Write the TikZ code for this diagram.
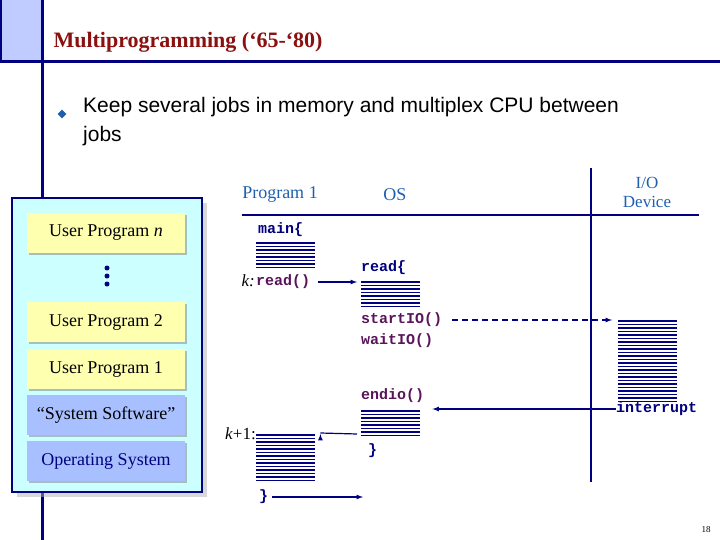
\documentclass[tikz,border=0pt]{standalone}
\usepackage{fontspec}
\setmainfont{Liberation Serif}
\newfontfamily\sansf{Liberation Sans}
\newfontfamily\monof{Liberation Mono}
\usetikzlibrary{positioning,shapes.geometric}
\definecolor{navy}{HTML}{000080}
\definecolor{titlered}{HTML}{8B1010}
\definecolor{codepurple}{HTML}{5A145A}
\definecolor{memcyan}{HTML}{CCFFFF}
\definecolor{progyellow}{HTML}{FFFFB0}
\definecolor{sysblue}{HTML}{A8C0FF}
\definecolor{textblue}{HTML}{1F5FB0}
\tikzset{
  prog/.style={draw=none,fill=progyellow,minimum width=158pt,minimum height=40pt,
    font=\fontsize{18}{20}\selectfont,drop shadow},
  sys/.style={prog,fill=sysblue},
  code/.style={font=\monof\bfseries\fontsize{15}{16}\selectfont,inner sep=0pt,anchor=west},
  stripes/.style={minimum width=59pt,minimum height=#1*3.5pt,inner sep=0pt,anchor=north west,
    path picture={\foreach \k in {1,...,#1}
      \draw[navy,line width=1.5pt] ([yshift=-\k*3.5pt+1.75pt]path picture bounding box.north west) -- ++(59pt,0);}},
  head/.style={text=textblue,font=\fontsize{18}{19}\selectfont},
  arr/.style={->,>=latex,navy,line width=1.2pt}
}
\usetikzlibrary{shadows}
\begin{document}
\begin{tikzpicture}[x=1pt,y=-1pt]
	\useasboundingbox (0,0) rectangle (720,540);
	% frame of the slide
	\fill[fill={rgb,255:red,192;green,204;blue,255}] (0,0) rectangle (42,62);
	\draw[navy,line width=2.5pt] (1,0) -- (1,62);
	\draw[navy,line width=3pt] (42,0) -- (42,540);
	\draw[navy,line width=3pt] (0,62) -- (720,62);
	\node[anchor=west,text=titlered,font=\bfseries\fontsize{22}{24}\selectfont] (title) at (50,42) {Multiprogramming (‘65-‘80)};
	\node[diamond,fill=textblue,inner sep=0pt,minimum size=9pt] (bullet) at (62,114) {};
	\node[anchor=north west,align=left,font=\sansf\fontsize{21}{29}\selectfont,inner sep=0pt] (keep) at (83,97)
	  {Keep several jobs in memory and multiplex CPU between\\jobs};

	% memory
	\node[draw=navy,line width=1.2pt,fill=memcyan,minimum width=190pt,minimum height=294pt,
	  drop shadow={shadow xshift=5pt,shadow yshift=-5pt,fill=gray!60}] (mem) at (107,345) {};
	\node[prog] (upn) at (106,233) {User Program \textit{n}};
	\foreach \y in {268,276,284} \fill[navy] (107,\y) circle (2.5pt);
	\node[prog] (up2) at (106,322) {User Program 2};
	\node[prog] (up1) at (106,369) {User Program 1};
	\node[sys] (ss) at (106,415) {“System Software”};
	\node[sys,text=navy] (os) at (106,461) {Operating System};

	% columns
	\node[head] (hprog) at (280,195) {Program 1};
	\node[head] (hos) at (395,195) {OS};
	\node[head,align=center,font=\fontsize{17}{19}\selectfont] (hio) at (647,192) {I/O\\Device};
	\draw[navy,line width=2.5pt] (242,215) -- (699,215);
	\draw[navy,line width=2.5pt] (591,168) -- (591,482);

	% program 1
	\node[code,text=navy] (main) at (258,230) {main\{};
	\node[stripes=8] (pa) at (256,241) {};
	\node[anchor=east,font=\itshape\fontsize{17}{18}\selectfont,inner sep=1pt] (k) at (256,281) {k:};
	\node[code,text=codepurple] (read) at (256,282) {read()};
	\node[anchor=east,font=\fontsize{17}{18}\selectfont,inner sep=1pt] (k1) at (257,434) {\textit{k}+1:};
	\node[stripes=14] (pb) at (256,433) {};
	\node[code,text=navy] (pend) at (259,497) {\}};

	% OS
	\node[code,text=navy] (readb) at (361,268) {read\{};
	\node[stripes=8] (oa) at (361,280) {};
	\node[code,text=codepurple] (start) at (361,320) {startIO()};
	\node[code,text=codepurple] (wait) at (361,341) {waitIO()};
	\node[code,text=codepurple] (endio) at (361,396) {endio()};
	\node[stripes=8] (ob) at (361,409) {};
	\node[code,text=navy] (oend) at (368,451) {\}};

	% I/O device
	\node[stripes=24] (io) at (618,319) {};
	\node[code,text=navy] (intr) at (616,409) {interrupt};

	% connectors
	\draw[arr] (read.east) ++(8,0) -- ([xshift=-4pt]oa.west |- read.east);
	\draw[arr,dashed,dash pattern=on 6pt off 4pt] ([xshift=10pt]start.east) -- ([xshift=-6pt]io.west |- start.east);
	\draw[arr] (intr.west) -- ([xshift=12pt]ob.east |- intr.west);
	\draw[arr] ([xshift=-4pt]ob.west |- pb.north) ++(0,1) -- ([xshift=5pt]pb.east |- pb.north) ++(0,1);
	\draw[arr] ([xshift=4pt]pend.east) -- ([xshift=2pt]oa.west |- pend.east);

	\node[font=\fontsize{9}{10}\selectfont] (page) at (706,530) {18};
\end{tikzpicture}
\end{document}
